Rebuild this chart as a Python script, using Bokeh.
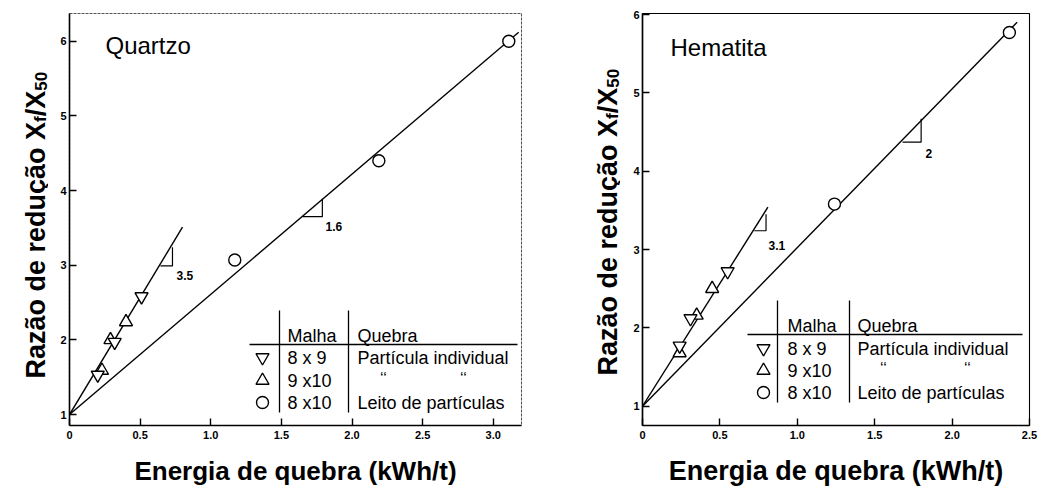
import math
from bokeh.plotting import figure
from bokeh.models import Range1d, FixedTicker, CustomJSTickFormatter
from bokeh.layouts import row
from bokeh.embed import file_html
from bokeh.resources import INLINE
from bokeh.core.properties import value

# ---------------- data ----------------
x_label = "Energia de quebra (kWh/t)"
y_label_main = "Razão de redução X"
y_label_sub1 = "f"
y_label_mid = "/X"
y_label_sub2 = "50"

x_ticks_quartzo = [0, 0.5, 1.0, 1.5, 2.0, 2.5, 3.0]
x_ticks_hematita = [0, 0.5, 1.0, 1.5, 2.0, 2.5]
y_ticks = [1, 2, 3, 4, 5, 6]

table_head = ["Malha", "Quebra"]
table_mesh = ["8 x 9", "9 x10", "8 x10"]
table_break = ["Partícula individual", "", "Leito de partículas"]
ditto = "‘‘"

# Quartzo
q_down_x = [0.20, 0.32, 0.51]
q_down_y = [1.53, 1.97, 2.58]
q_up_x = [0.23, 0.29, 0.40]
q_up_y = [1.59, 2.00, 2.24]
q_bed_x = [1.17, 2.19, 3.11]
q_bed_y = [3.07, 4.40, 6.00]
q_fit_single_x = [0.0, 0.80]
q_fit_single_y = [1.0, 3.51]
q_fit_bed_x = [0.0, 3.18]
q_fit_bed_y = [1.0, 6.12]
q_tri_single = ([0.644, 0.729, 0.729], [2.99, 2.99, 3.24])
q_tri_bed = ([1.65, 1.79, 1.79], [3.65, 3.65, 3.89])
q_slope_labels = ["3.5", "1.6"]

# Hematita
h_down_x = [0.24, 0.31, 0.55]
h_down_y = [1.77, 2.12, 2.72]
h_up_x = [0.24, 0.35, 0.45]
h_up_y = [1.68, 2.16, 2.50]
h_bed_x = [1.24, 2.37]
h_bed_y = [3.58, 5.77]
h_fit_single_x = [0.0, 0.81]
h_fit_single_y = [1.0, 3.54]
h_fit_bed_x = [0.0, 2.42]
h_fit_bed_y = [1.0, 5.90]
h_tri_single = ([0.722, 0.798, 0.798], [3.24, 3.24, 3.45])
h_tri_bed = ([1.68, 1.80, 1.80], [4.37, 4.37, 4.67])
h_slope_labels = ["3.1", "2"]

FONT = "Liberation Sans"
H = 490
FT, FB = 13, 425  # common frame top / bottom (page px); frames in a row are aligned

# Arial/Liberation Sans Bold advance widths (per 1000 em)
BOLD_W = {" ": 278, "R": 722, "a": 556, "z": 500, "ã": 556, "o": 611, "d": 611,
          "e": 556, "r": 389, "u": 611, "ç": 556, "X": 667, "f": 333, "/": 278,
          "5": 556, "0": 556}


def text_w(s, size):
    return sum(BOLD_W.get(c, 556) for c in s) * size / 1000.0


def make_panel(cfg):
    fig_x, w = cfg["fig"]
    L, R = cfg["frame"]
    x0, x1 = cfg["xr"]
    y0, y1 = cfg["yr"]
    p = figure(width=w, height=H, output_backend="svg", toolbar_location=None, title=None,
               x_range=Range1d(x0, x1), y_range=Range1d(y0, y1),
               min_border_left=L - fig_x, min_border_right=fig_x + w - R,
               min_border_top=FT, min_border_bottom=H - FB)
    p.background_fill_color = "white"
    p.border_fill_color = "white"
    p.outline_line_color = cfg["outline_color"]
    p.outline_line_width = 1.1
    p.outline_line_dash = cfg["outline_dash"]
    p.xgrid.visible = False
    p.ygrid.visible = False
    for ax in (p.xaxis[0], p.yaxis[0]):
        ax.axis_line_color = "black"
        ax.axis_line_width = 1.6
        ax.major_tick_in = 7
        ax.major_tick_out = 0
        ax.major_tick_line_color = "black"
        ax.major_tick_line_width = 1.4
        ax.minor_tick_line_color = None
        ax.major_label_text_font = FONT
        ax.major_label_text_font_style = "bold"
        ax.major_label_text_font_size = "11px"
        ax.major_label_text_color = "black"
    p.xaxis.ticker = FixedTicker(ticks=cfg["xticks"])
    p.xaxis.formatter = CustomJSTickFormatter(code="return tick == 0 ? '0' : tick.toFixed(1);")
    p.xaxis.major_label_standoff = 5
    p.xaxis.axis_label = x_label
    p.xaxis.axis_label_text_font = FONT
    p.xaxis.axis_label_text_font_style = "bold"
    p.xaxis.axis_label_text_font_size = "%dpx" % cfg["xlab_size"]
    p.xaxis.axis_label_text_color = "black"
    p.xaxis.axis_label_standoff = 14
    p.yaxis.ticker = FixedTicker(ticks=y_ticks)
    p.yaxis.major_label_standoff = 3

    def fx(px):
        return x0 + (px - L) / (R - L) * (x1 - x0)

    def fy(py):
        return y0 + (FB - py) / (FB - FT) * (y1 - y0)

    p._fx, p._fy = fx, fy
    return p


def decorate(p, cfg, d):
    fx, fy = p._fx, p._fy
    lw = 1.4
    p.line(d["fit_single_x"], d["fit_single_y"], line_color="black", line_width=lw)
    p.line(d["fit_bed_x"], d["fit_bed_y"], line_color="black", line_width=lw)
    for tri in (d["tri_single"], d["tri_bed"]):
        p.line(tri[0], tri[1], line_color="black", line_width=1.2)
    for (tx, ty), s in zip(cfg["slope_pos"], d["slope_labels"]):
        p.text(x=[fx(tx)], y=[fy(ty)], text=[s], text_font=value(FONT), text_font_style="bold",
               text_font_size="12px", text_baseline="middle", text_align="left", text_color="black")
    mk = dict(fill_color="white", line_color="black", line_width=1.4)
    p.scatter(d["up_x"], d["up_y"], marker="triangle", size=13, **mk)
    p.scatter(d["down_x"], d["down_y"], marker="inverted_triangle", size=13, **mk)
    p.scatter(d["bed_x"], d["bed_y"], marker="circle", size=12, **mk)

    tx, ty = cfg["title_pos"]
    p.text(x=[fx(tx)], y=[fy(ty)], text=[cfg["title"]], text_font=value(FONT),
           text_font_size="24px", text_baseline="middle", text_align="left", text_color="black")

    tb = cfg["table"]
    p.line([fx(tb["v1"]), fx(tb["v1"])], [fy(tb["vtop"]), fy(tb["vbot"])], line_color="black", line_width=1.3)
    p.line([fx(tb["v2"]), fx(tb["v2"])], [fy(tb["vtop"]), fy(tb["vbot"])], line_color="black", line_width=1.3)
    p.line([fx(tb["hl"]), fx(tb["hr"])], [fy(tb["hy"]), fy(tb["hy"])], line_color="black", line_width=1.3)
    tf = dict(text_font=value(FONT), text_font_size="18px", text_baseline="middle",
              text_align="left", text_color="black")
    p.text(x=[fx(tb["c1"]), fx(tb["c2"])], y=[fy(tb["head_y"])] * 2, text=table_head, **tf)
    p.text(x=[fx(tb["c1"])] * 3, y=[fy(v) for v in tb["rows"]], text=table_mesh, **tf)
    p.text(x=[fx(tb["c2"])] * 3, y=[fy(v) for v in tb["rows"]], text=table_break, **tf)
    p.text(x=[fx(v) for v in tb["ditto_x"]], y=[fy(tb["rows"][1] - 2)] * 2, text=[ditto, ditto],
           text_font=value(FONT), text_font_size="16px", text_baseline="middle", text_align="center",
           text_color="black")
    sx = fx(tb["sym"])
    p.scatter([sx], [fy(tb["rows"][0])], marker="inverted_triangle", size=13, **mk)
    p.scatter([sx], [fy(tb["rows"][1])], marker="triangle", size=13, **mk)
    p.scatter([sx], [fy(tb["rows"][2])], marker="circle", size=12, **mk)


def ylabel_fig(x0, width, base_x, start_y):
    """Narrow figure holding the rotated y title; its data coordinates are page pixels."""
    f = figure(width=width, height=H, output_backend="svg", toolbar_location=None, title=None,
               x_range=Range1d(x0, x0 + width), y_range=Range1d(FB, FT),
               x_axis_location=None, y_axis_location=None,
               min_border_left=0, min_border_right=0, min_border_top=FT, min_border_bottom=H - FB)
    f.outline_line_color = None
    f.xgrid.visible = False
    f.ygrid.visible = False
    f.background_fill_color = "white"
    f.border_fill_color = "white"
    big, small = 27, 17
    pieces = [(y_label_main, big, 0), (y_label_sub1, small, 5), (y_label_mid, big, 0), (y_label_sub2, small, 5)]
    cur = start_y
    for s, size, shift in pieces:
        f.text(x=[base_x + shift], y=[cur], text=[s], text_font=value(FONT), text_font_style="bold",
               text_font_size="%dpx" % size, angle=math.pi / 2, text_align="left",
               text_baseline="alphabetic", text_color="black")
        cur -= text_w(s, size)
    return f


cfg_q = dict(fig=(48, 482), frame=(69, 521), xr=(0, 3.2), yr=(0.853, 6.372),
             xticks=x_ticks_quartzo, title="Quartzo", title_pos=(105, 45), xlab_size=26,
             outline_color="#555555", outline_dash="3 1",
             slope_pos=[(176, 275), (325, 226)],
             table=dict(v1=279, v2=348, vtop=310, vbot=412, hl=249, hr=517, hy=344,
                        c1=287, c2=357, head_y=335, rows=[357, 380, 402], sym=262,
                        ditto_x=[383, 463]))
cfg_h = dict(fig=(620, 422), frame=(642, 1029), xr=(0, 2.5), yr=(0.754, 6.013),
             xticks=x_ticks_hematita, title="Hematita", title_pos=(670, 47), xlab_size=27,
             outline_color="black", outline_dash="solid",
             slope_pos=[(768, 245), (925, 153)],
             table=dict(v1=777, v2=849, vtop=300, vbot=402, hl=747, hr=1022, hy=334,
                        c1=787, c2=857, head_y=325, rows=[348, 370, 392], sym=763,
                        ditto_x=[883, 967]))

data_q = dict(down_x=q_down_x, down_y=q_down_y, up_x=q_up_x, up_y=q_up_y, bed_x=q_bed_x, bed_y=q_bed_y,
              fit_single_x=q_fit_single_x, fit_single_y=q_fit_single_y,
              fit_bed_x=q_fit_bed_x, fit_bed_y=q_fit_bed_y,
              tri_single=q_tri_single, tri_bed=q_tri_bed, slope_labels=q_slope_labels)
data_h = dict(down_x=h_down_x, down_y=h_down_y, up_x=h_up_x, up_y=h_up_y, bed_x=h_bed_x, bed_y=h_bed_y,
              fit_single_x=h_fit_single_x, fit_single_y=h_fit_single_y,
              fit_bed_x=h_fit_bed_x, fit_bed_y=h_fit_bed_y,
              tri_single=h_tri_single, tri_bed=h_tri_bed, slope_labels=h_slope_labels)

p1 = make_panel(cfg_q)
decorate(p1, cfg_q, data_q)
p2 = make_panel(cfg_h)
decorate(p2, cfg_h, data_h)

yl1 = ylabel_fig(0, 48, 35, 378)
yl2 = ylabel_fig(530, 90, 607, 375)

layout = row(yl1, p1, yl2, p2)
open("out.html", "w").write(file_html(layout, INLINE))
